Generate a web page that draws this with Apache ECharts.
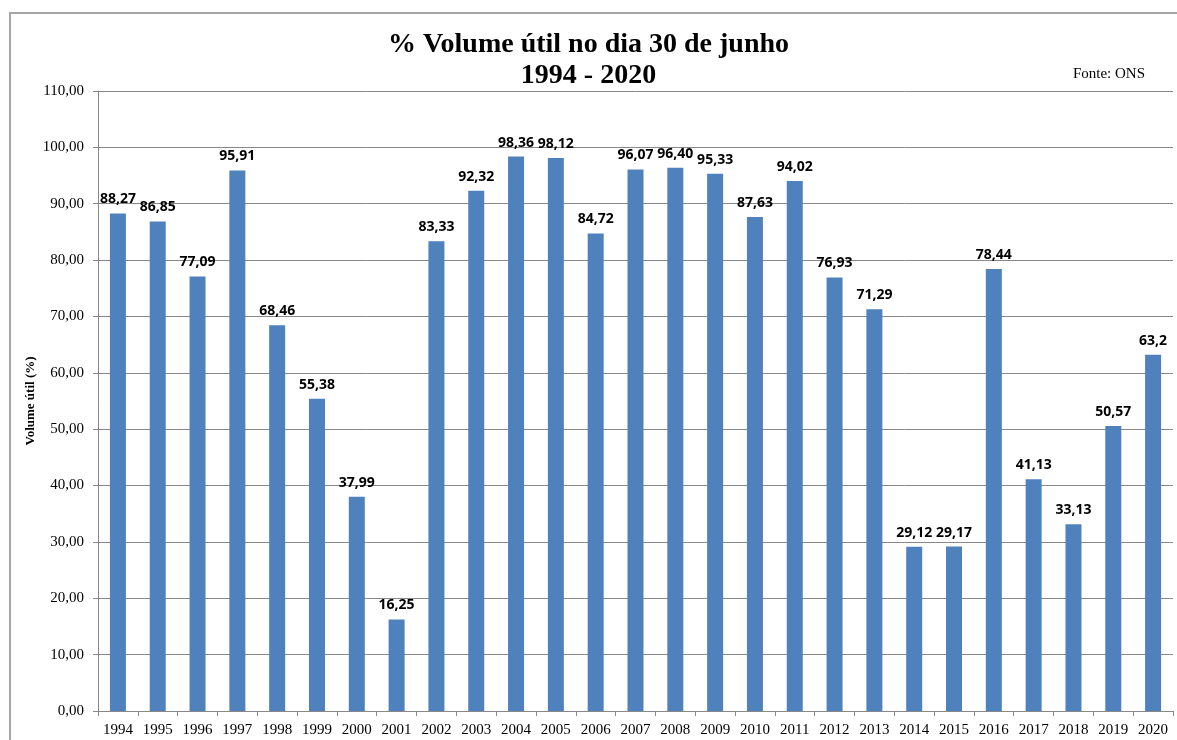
<!DOCTYPE html>
<html><head><meta charset="utf-8">
<script src="https://cdn.jsdelivr.net/npm/echarts@6/dist/echarts.min.js"></script>
<style>html,body{margin:0;padding:0;background:#fff}#c{width:1177px;height:740px}</style>
</head><body><div id="c"></div>
<script>
const years = ['1994','1995','1996','1997','1998','1999','2000','2001','2002','2003','2004','2005','2006','2007','2008','2009','2010','2011','2012','2013','2014','2015','2016','2017','2018','2019','2020'];
const volume = [88.27,86.85,77.09,95.91,68.46,55.38,37.99,16.25,83.33,92.32,98.36,98.12,84.72,96.07,96.40,95.33,87.63,94.02,76.93,71.29,29.12,29.17,78.44,41.13,33.13,50.57,63.2];
const valueLabels = ['88,27','86,85','77,09','95,91','68,46','55,38','37,99','16,25','83,33','92,32','98,36','98,12','84,72','96,07','96,40','95,33','87,63','94,02','76,93','71,29','29,12','29,17','78,44','41,13','33,13','50,57','63,2'];
const titleLines = ['% Volume útil no dia 30 de junho','1994 - 2020'];
const sourceText = 'Fonte: ONS';
const yName = 'Volume útil (%)';

const chart = echarts.init(document.getElementById('c'));
chart.setOption({
  animation:false,
  graphic:[{type:'rect',shape:{x:10,y:13,width:1200,height:760},style:{fill:'none',stroke:'#a6a6a6',lineWidth:2},silent:true}],
  title:[
    {text:titleLines.join('\n'),left:'center',top:24,textStyle:{fontFamily:'Liberation Serif',fontWeight:'bold',fontSize:28,color:'#000',lineHeight:31}},
    {text:sourceText,right:27,top:62,textStyle:{fontFamily:'Liberation Serif',fontWeight:'normal',fontSize:15,color:'#000'}}
  ],
  grid:{left:98,right:4,top:91,bottom:29},
  xAxis:{type:'category',data:years,
    axisLine:{lineStyle:{color:'#888',width:1}},
    axisTick:{show:true,length:5,lineStyle:{color:'#888'}},
    axisLabel:{color:'#000',fontFamily:'Liberation Serif',fontSize:15,margin:12,interval:0}},
  yAxis:{type:'value',min:0,max:110,interval:10,
    name:yName,nameLocation:'middle',nameGap:61,nameMoveOverlap:false,
    nameTextStyle:{fontFamily:'Liberation Serif',fontWeight:'bold',fontSize:13,color:'#000'},
    axisLine:{show:true,lineStyle:{color:'#888'}},
    axisTick:{show:true,length:5,lineStyle:{color:'#888'}},
    splitLine:{lineStyle:{color:'#888',width:1}},
    axisLabel:{color:'#000',fontFamily:'Liberation Serif',fontSize:15,margin:14,formatter:v=>v.toFixed(2).replace('.',',')}},
  series:[{type:'bar',data:volume,barWidth:16,
    itemStyle:{color:'#4F81BD'},
    label:{show:true,position:'top',distance:7,color:'#000',fontFamily:'Open Sans',fontWeight:'bold',fontSize:14,
      formatter:p=>valueLabels[p.dataIndex]}}]
});
</script></body></html>
